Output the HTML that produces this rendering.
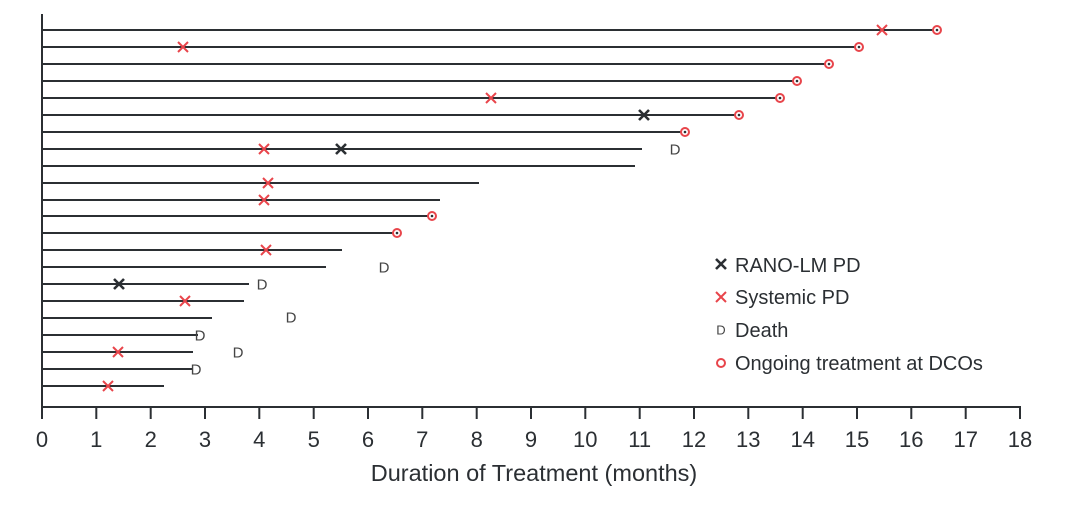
<!DOCTYPE html>
<html><head><style>body{margin:0;background:#fff}</style></head><body>
<svg width="1080" height="507" xmlns="http://www.w3.org/2000/svg" font-family="Liberation Sans, sans-serif">
<defs>
<path id="x" d="M-5,-5L5,5M-5,5L5,-5"/>
</defs>
<g stroke="#2b2f33" stroke-width="2" fill="none">
<line x1="42" y1="14" x2="42" y2="408"/>
<line x1="41" y1="407" x2="1021" y2="407"/>
<line x1="42" y1="30" x2="937" y2="30"/>
<line x1="42" y1="47" x2="859" y2="47"/>
<line x1="42" y1="64" x2="829" y2="64"/>
<line x1="42" y1="81" x2="797" y2="81"/>
<line x1="42" y1="98" x2="780" y2="98"/>
<line x1="42" y1="115" x2="739" y2="115"/>
<line x1="42" y1="132" x2="685" y2="132"/>
<line x1="42" y1="149" x2="642" y2="149"/>
<line x1="42" y1="166" x2="635" y2="166"/>
<line x1="42" y1="183" x2="479" y2="183"/>
<line x1="42" y1="200" x2="440" y2="200"/>
<line x1="42" y1="216" x2="432" y2="216"/>
<line x1="42" y1="233" x2="397" y2="233"/>
<line x1="42" y1="250" x2="342" y2="250"/>
<line x1="42" y1="267" x2="326" y2="267"/>
<line x1="42" y1="284" x2="249" y2="284"/>
<line x1="42" y1="301" x2="244" y2="301"/>
<line x1="42" y1="318" x2="212" y2="318"/>
<line x1="42" y1="335" x2="198" y2="335"/>
<line x1="42" y1="352" x2="193" y2="352"/>
<line x1="42" y1="369" x2="192" y2="369"/>
<line x1="42" y1="386" x2="164" y2="386"/>
<line x1="42" y1="407" x2="42" y2="419"/><line x1="96.3" y1="407" x2="96.3" y2="419"/><line x1="150.7" y1="407" x2="150.7" y2="419"/><line x1="205" y1="407" x2="205" y2="419"/><line x1="259.3" y1="407" x2="259.3" y2="419"/><line x1="313.7" y1="407" x2="313.7" y2="419"/><line x1="368" y1="407" x2="368" y2="419"/><line x1="422.3" y1="407" x2="422.3" y2="419"/><line x1="476.7" y1="407" x2="476.7" y2="419"/><line x1="531" y1="407" x2="531" y2="419"/><line x1="585.3" y1="407" x2="585.3" y2="419"/><line x1="639.7" y1="407" x2="639.7" y2="419"/><line x1="694" y1="407" x2="694" y2="419"/><line x1="748.3" y1="407" x2="748.3" y2="419"/><line x1="802.7" y1="407" x2="802.7" y2="419"/><line x1="857" y1="407" x2="857" y2="419"/><line x1="911.3" y1="407" x2="911.3" y2="419"/><line x1="965.7" y1="407" x2="965.7" y2="419"/><line x1="1020" y1="407" x2="1020" y2="419"/>
</g>
<g font-size="22" fill="#2b2f33" text-anchor="middle">
<text x="42" y="447">0</text><text x="96.3" y="447">1</text><text x="150.7" y="447">2</text><text x="205" y="447">3</text><text x="259.3" y="447">4</text><text x="313.7" y="447">5</text><text x="368" y="447">6</text><text x="422.3" y="447">7</text><text x="476.7" y="447">8</text><text x="531" y="447">9</text><text x="585.3" y="447">10</text><text x="639.7" y="447">11</text><text x="694" y="447">12</text><text x="748.3" y="447">13</text><text x="802.7" y="447">14</text><text x="857" y="447">15</text><text x="911.3" y="447">16</text><text x="965.7" y="447">17</text><text x="1020" y="447">18</text>
<text x="534" y="481" font-size="23.5">Duration of Treatment (months)</text>
</g>
<g fill="#fff" stroke="#e8454b" stroke-width="2">
<circle cx="937" cy="30" r="4"/><circle cx="859" cy="47" r="4"/><circle cx="829" cy="64" r="4"/><circle cx="797" cy="81" r="4"/><circle cx="780" cy="98" r="4"/><circle cx="739" cy="115" r="4"/><circle cx="685" cy="132" r="4"/><circle cx="432" cy="216" r="4"/><circle cx="397" cy="233" r="4"/>
<circle cx="721" cy="363" r="4"/>
</g>
<g fill="#2b2f33"><circle cx="937" cy="30" r="1.3"/><circle cx="859" cy="47" r="1.3"/><circle cx="829" cy="64" r="1.3"/><circle cx="797" cy="81" r="1.3"/><circle cx="780" cy="98" r="1.3"/><circle cx="739" cy="115" r="1.3"/><circle cx="685" cy="132" r="1.3"/><circle cx="432" cy="216" r="1.3"/><circle cx="397" cy="233" r="1.3"/></g>
<g stroke="#e8454b" stroke-width="2" fill="none">
<use href="#x" x="882" y="30"/><use href="#x" x="183" y="47"/><use href="#x" x="491" y="98"/><use href="#x" x="264" y="149"/><use href="#x" x="268" y="183"/><use href="#x" x="264" y="200"/><use href="#x" x="266" y="250"/><use href="#x" x="185" y="301"/><use href="#x" x="118" y="352"/><use href="#x" x="108" y="386"/>
<use href="#x" x="721" y="297"/>
</g>
<g stroke="#2b2f33" stroke-width="2.6" fill="none">
<use href="#x" x="644" y="115"/><use href="#x" x="341" y="149"/><use href="#x" x="119" y="284"/>
<use href="#x" x="721" y="264"/>
</g>
<g font-size="15" fill="#444" text-anchor="middle" dominant-baseline="central">
<text x="675" y="150">D</text><text x="384" y="268">D</text><text x="262" y="285">D</text><text x="291" y="318">D</text><text x="200" y="336">D</text><text x="238" y="353">D</text><text x="196" y="370">D</text>
<text x="721" y="330" font-size="13">D</text>
</g>
<g font-size="20" fill="#2b2f33">
<text x="735" y="272">RANO-LM PD</text>
<text x="735" y="304">Systemic PD</text>
<text x="735" y="337">Death</text>
<text x="735" y="370">Ongoing treatment at DCOs</text>
</g>
</svg>
</body></html>
